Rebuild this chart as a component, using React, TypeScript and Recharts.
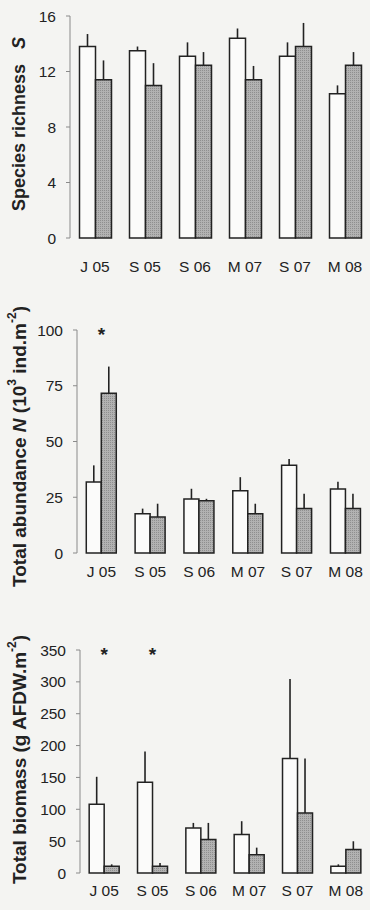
import React from "react";
import {
  BarChart,
  Bar,
  XAxis,
  YAxis,
  ErrorBar,
  ReferenceDot,
  Label,
} from "recharts";

const categories = ["J 05", "S 05", "S 06", "M 07", "S 07", "M 08"];

// species richness S
const richnessOpen = [13.8, 13.5, 13.1, 14.4, 13.1, 10.4];
const richnessOpenErr = [0.9, 0.3, 1.0, 0.7, 1.0, 0.6];
const richnessGrey = [11.4, 11.0, 12.45, 11.4, 13.8, 12.45];
const richnessGreyErr = [1.4, 1.6, 0.95, 1.0, 1.7, 0.95];
const richnessTicks = [0, 4, 8, 12, 16];

// total abundance N (10^3 ind.m-2)
const abundanceOpen = [31.8, 17.6, 24.2, 27.9, 39.3, 28.7];
const abundanceOpenErr = [7.5, 2.3, 4.6, 6.1, 2.9, 3.2];
const abundanceGrey = [71.6, 16.1, 23.4, 17.6, 19.9, 19.9];
const abundanceGreyErr = [12.0, 6.0, 0.9, 4.5, 6.7, 6.7];
const abundanceTicks = [0, 25, 50, 75, 100];
const abundanceStars = ["J 05"];

// total biomass (g AFDW.m-2)
const biomassOpen = [108, 142.6, 70.8, 60.3, 179.8, 10.5];
const biomassOpenErr = [43, 48, 7.8, 21, 124.7, 3.1];
const biomassGrey = [10.5, 10.5, 52.4, 28.8, 94.3, 36.7];
const biomassGreyErr = [3.1, 5.2, 26.2, 11, 85.5, 13.1];
const biomassTicks = [0, 50, 100, 150, 200, 250, 300, 350];
const biomassStars = ["J 05", "S 05"];

const boundaryTicks = [0, 1, 2, 3, 4, 5, 6];

const FONT = "'Liberation Sans', Arial, sans-serif";
const INK = "#222";
const AXIS = "#8a8a8a";
const BG = "#f4f4f2";

const noTick = () => <g />;

function buildRows(open: number[], openErr: number[], grey: number[], greyErr: number[]) {
  return categories.map((cat, i) => ({
    cat,
    open: open[i],
    openErr: [0, openErr[i]],
    grey: grey[i],
    greyErr: [0, greyErr[i]],
  }));
}

interface PanelProps {
  id: string;
  top: number;
  height: number;
  marginTop: number;
  marginBottom: number;
  axisWidth: number;
  ticks: number[];
  rows: ReturnType<typeof buildRows>;
  stars: string[];
  labelDy: number;
  yLabel: (cx: number, cy: number) => React.ReactNode;
  yLabelShift: number;
}

function Panel({
  id,
  top,
  height,
  marginTop,
  marginBottom,
  axisWidth,
  ticks,
  rows,
  stars,
  labelDy,
  yLabel,
  yLabelShift,
}: PanelProps) {
  const yMax = ticks[ticks.length - 1];
  const catTick = (props: any) => (
    <text
      x={props.x}
      y={props.y + labelDy}
      textAnchor="middle"
      fontFamily={FONT}
      fontSize={15.5}
      fill={INK}
    >
      {props.payload.value}
    </text>
  );
  const star = (props: any) => (
    <text
      x={props.cx}
      y={props.cy + 11}
      textAnchor="middle"
      fontFamily={FONT}
      fontSize={19}
      fontWeight="bold"
      fill={INK}
    >
      *
    </text>
  );

  return (
    <div style={{ position: "absolute", left: 0, top }}>
      <BarChart
        width={370}
        height={height}
        data={rows}
        margin={{ top: marginTop, right: 0, bottom: marginBottom, left: 0 }}
        barCategoryGap="19%"
        barGap={0}
      >
        <defs>
          <pattern id={`stip-${id}`} width="2" height="2" patternUnits="userSpaceOnUse">
            <rect width="2" height="2" fill="#b2b2b2" />
            <rect width="1" height="1" fill="#8f8f8f" />
          </pattern>
        </defs>
        <XAxis
          xAxisId="grid"
          type="number"
          domain={[0, 6]}
          ticks={boundaryTicks}
          allowDataOverflow
          height={0}
          tick={noTick}
          tickSize={4}
          axisLine={{ stroke: AXIS, strokeWidth: 1 }}
          tickLine={{ stroke: AXIS, strokeWidth: 1 }}
        />
        <XAxis
          xAxisId="cat"
          dataKey="cat"
          height={30}
          axisLine={false}
          tickLine={false}
          tickSize={0}
          tickMargin={0}
          interval={0}
          tick={catTick}
        />
        <YAxis
          type="number"
          domain={[0, yMax]}
          ticks={ticks}
          interval={0}
          width={axisWidth}
          tickSize={4}
          tickMargin={10}
          axisLine={{ stroke: AXIS, strokeWidth: 1 }}
          tickLine={{ stroke: AXIS, strokeWidth: 1 }}
          tick={{ fontFamily: FONT, fontSize: 15.5, fill: INK }}
        >
          <Label
            content={(p: any) => {
              const vb = p.viewBox;
              return yLabel(19, vb.y + vb.height / 2 + yLabelShift);
            }}
          />
        </YAxis>
        <Bar
          xAxisId="cat"
          dataKey="open"
          fill="#fbfbfa"
          stroke={INK}
          strokeWidth={1.5}
          isAnimationActive={false}
        >
          <ErrorBar dataKey="openErr" width={0} stroke={INK} strokeWidth={1.6} />
        </Bar>
        <Bar
          xAxisId="cat"
          dataKey="grey"
          fill={`url(#stip-${id})`}
          stroke={INK}
          strokeWidth={1.5}
          isAnimationActive={false}
        >
          <ErrorBar dataKey="greyErr" width={0} stroke={INK} strokeWidth={1.6} />
        </Bar>
        {stars.map((c) => (
          <ReferenceDot
            key={c}
            xAxisId="cat"
            x={c}
            y={yMax}
            r={0}
            shape={star}
            ifOverflow="visible"
          />
        ))}
      </BarChart>
    </div>
  );
}

const labelStyle = {
  fontFamily: FONT,
  fontWeight: "bold" as const,
  fill: INK,
};

const richnessLabel = (cx: number, cy: number) => (
  <text
    x={cx}
    y={cy}
    transform={`rotate(-90, ${cx}, ${cy})`}
    textAnchor="middle"
    dominantBaseline="central"
    fontSize={18}
    {...labelStyle}
  >
    Species richness
    <tspan dx={15} fontStyle="italic">S</tspan>
  </text>
);

const abundanceLabel = (cx: number, cy: number) => (
  <text
    x={cx}
    y={cy}
    transform={`rotate(-90, ${cx}, ${cy})`}
    textAnchor="middle"
    dominantBaseline="central"
    fontSize={19}
    {...labelStyle}
  >
    Total abundance <tspan fontStyle="italic">N</tspan> (10
    <tspan dy={-7} fontSize={12}>3</tspan>
    <tspan dy={7}> ind.m</tspan>
    <tspan dy={-7} fontSize={12}>-2</tspan>
    <tspan dy={7}>)</tspan>
  </text>
);

const biomassLabel = (cx: number, cy: number) => (
  <text
    x={cx}
    y={cy}
    transform={`rotate(-90, ${cx}, ${cy})`}
    textAnchor="middle"
    dominantBaseline="central"
    fontSize={19}
    {...labelStyle}
  >
    Total biomass (g AFDW.m
    <tspan dy={-7} fontSize={12}>-2</tspan>
    <tspan dy={7}>)</tspan>
  </text>
);

export default function App() {
  return (
    <div
      style={{
        position: "fixed",
        left: 0,
        top: 0,
        width: 370,
        height: 910,
        background: BG,
        overflow: "hidden",
      }}
    >
      <Panel
        id="s"
        top={0}
        height={300}
        marginTop={16}
        marginBottom={32}
        axisWidth={70}
        ticks={richnessTicks}
        rows={buildRows(richnessOpen, richnessOpenErr, richnessGrey, richnessGreyErr)}
        stars={[]}
        labelDy={34}
        yLabel={richnessLabel}
        yLabelShift={-3}
      />
      <Panel
        id="n"
        top={300}
        height={300}
        marginTop={30}
        marginBottom={17}
        axisWidth={77}
        ticks={abundanceTicks}
        rows={buildRows(abundanceOpen, abundanceOpenErr, abundanceGrey, abundanceGreyErr)}
        stars={abundanceStars}
        labelDy={24}
        yLabel={abundanceLabel}
        yLabelShift={5}
      />
      <Panel
        id="b"
        top={600}
        height={310}
        marginTop={50}
        marginBottom={7}
        axisWidth={80}
        ticks={biomassTicks}
        rows={buildRows(biomassOpen, biomassOpenErr, biomassGrey, biomassGreyErr)}
        stars={biomassStars}
        labelDy={23}
        yLabel={biomassLabel}
        yLabelShift={-2}
      />
    </div>
  );
}
